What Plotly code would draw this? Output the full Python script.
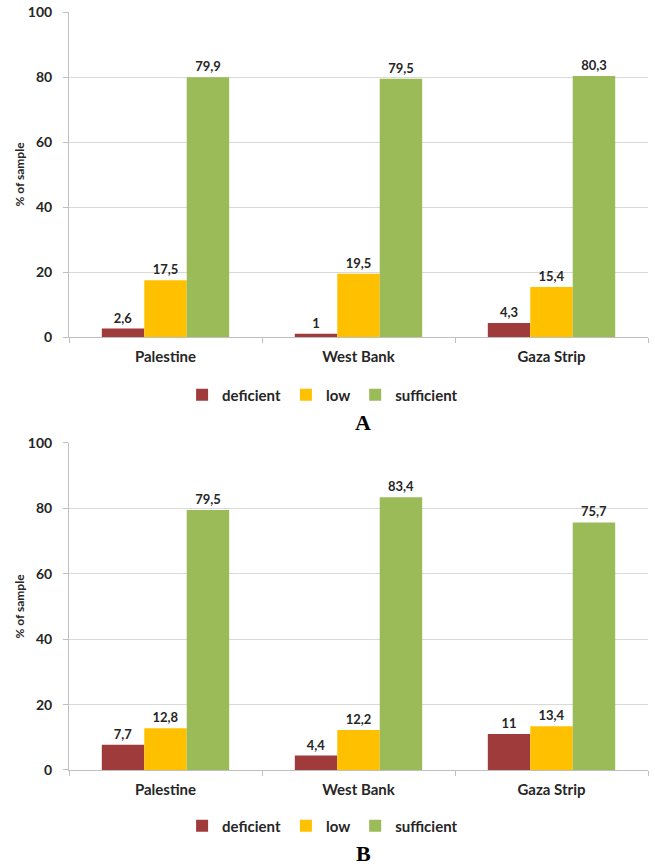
import plotly.graph_objects as go
from plotly.subplots import make_subplots

regions = ["Palestine", "West Bank", "Gaza Strip"]
levels = ["deficient", "low", "sufficient"]

# panel A
a_deficient = [2.6, 1, 4.3]
a_low = [17.5, 19.5, 15.4]
a_sufficient = [79.9, 79.5, 80.3]

# panel B
b_deficient = [7.7, 4.4, 11]
b_low = [12.8, 12.2, 13.4]
b_sufficient = [79.5, 83.4, 75.7]

colors = ["#A03B3B", "#FFC000", "#9BBB59"]
FONT = "Lato"


def lbl(v):
    return [str(x).replace(".", ",") for x in v]


fig = make_subplots(rows=2, cols=1)

panels = [(a_deficient, a_low, a_sufficient), (b_deficient, b_low, b_sufficient)]
for row, series in enumerate(panels, start=1):
    for name, vals, col in zip(levels, series, colors):
        fig.add_trace(go.Bar(
            x=regions, y=vals, name=name,
            marker=dict(color=col, line=dict(width=0)),
            text=lbl(vals), textposition="outside", cliponaxis=False,
            textfont=dict(family=FONT, size=13, color="#262626", weight="bold"),
            legend="legend" if row == 1 else "legend2",
        ), row=row, col=1)

axis_font = dict(family=FONT, size=14, color="#262626", weight="bold")
for row in (1, 2):
    fig.update_yaxes(
        range=[0, 100], dtick=20, showgrid=True, gridcolor="#D9D9D9", gridwidth=1,
        showline=True, linecolor="#BFBFBF", ticks="outside", ticklen=5, tickcolor="#BFBFBF",
        tickfont=axis_font, zeroline=False, automargin=False, ticklabelstandoff=8,
        title=dict(text="% of sample", font=dict(family=FONT, size=12, color="#262626", weight="bold"), standoff=0),
        row=row, col=1)
    fig.update_xaxes(
        showline=True, linecolor="#BFBFBF", ticks="outside", tickson="boundaries", ticklen=5,
        tickcolor="#BFBFBF", tickfont=dict(family=FONT, size=15, color="#262626", weight="bold"),
        automargin=False, ticklabelstandoff=6,
        row=row, col=1)

leg = dict(orientation="h", xanchor="center", yanchor="middle",
           font=dict(family=FONT, size=15, color="#262626", weight="bold"),
           itemwidth=30, tracegroupgap=0, bgcolor="rgba(0,0,0,0)")

fig.update_layout(
    width=655, height=867,
    margin=dict(l=69, r=7, t=12, b=97),
    plot_bgcolor="white", paper_bgcolor="white",
    bargap=0.34, bargroupgap=0,
    yaxis=dict(domain=[0.5712, 1.0]),
    yaxis2=dict(domain=[0.0, 0.4314]),
    legend=dict(leg, x=0.438, y=0.4947),
    legend2=dict(leg, x=0.438, y=-0.0739),
    annotations=[
        dict(text="A", x=0.508, y=0.459, xref="paper", yref="paper", showarrow=False,
             xanchor="center", yanchor="middle",
             font=dict(family="Liberation Serif", size=22, color="black", weight="bold")),
        dict(text="B", x=0.508, y=-0.1095, xref="paper", yref="paper", showarrow=False,
             xanchor="center", yanchor="middle",
             font=dict(family="Liberation Serif", size=22, color="black", weight="bold")),
    ],
)

# drop the default 8px body margin so the figure sits at the window corner
fig.write_html("out.html", config={"displayModeBar": False},
               post_script="document.body.style.margin='0';")
